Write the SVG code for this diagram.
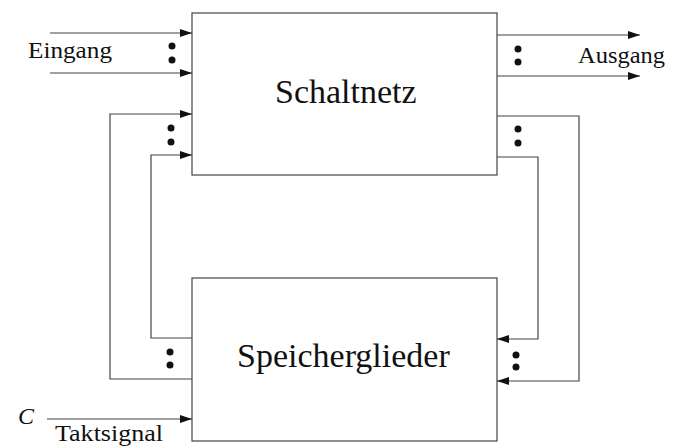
<svg xmlns="http://www.w3.org/2000/svg" width="673" height="448" viewBox="0 0 673 448">
<defs>
<marker id="arr" viewBox="0 0 12 8" refX="12" refY="4" markerWidth="12" markerHeight="8" markerUnits="userSpaceOnUse" orient="auto">
<path d="M0,0 L12,4 L0,8 Z" fill="#111"/>
</marker>
</defs>
<style>
.box{fill:#fff;stroke:#444;stroke-width:1.2}
.ln{fill:none;stroke:#444;stroke-width:1.2}
.t{font-family:"Liberation Serif","Times New Roman",serif;fill:#111}
.dot{fill:#111}
</style>
<rect width="673" height="448" fill="#fff"/>
<g id="schaltnetz">
<rect class="box" x="192" y="13" width="305" height="162"/>
<text class="t" x="275" y="103" font-size="34">Schaltnetz</text>
</g>
<g id="speicherglieder">
<rect class="box" x="192" y="278" width="305" height="163"/>
<text class="t" x="237" y="367" font-size="34">Speicherglieder</text>
</g>
<g id="connectors">
<path class="ln" d="M50,33 H192" marker-end="url(#arr)"/>
<path class="ln" d="M50,73 H192" marker-end="url(#arr)"/>
<path class="ln" d="M497,35 H640" marker-end="url(#arr)"/>
<path class="ln" d="M497,76 H640" marker-end="url(#arr)"/>
<path class="ln" d="M192,379 H110 V114 H192" marker-end="url(#arr)"/>
<path class="ln" d="M192,338 H151 V155 H192" marker-end="url(#arr)"/>
<path class="ln" d="M497,116 H579 V381 H497" marker-end="url(#arr)"/>
<path class="ln" d="M497,157 H538 V339 H497" marker-end="url(#arr)"/>
<path class="ln" d="M47,419 H192" marker-end="url(#arr)"/>
</g>
<g id="dots">
<circle class="dot" cx="172" cy="46" r="3.5"/>
<circle class="dot" cx="172" cy="60" r="3.5"/>
<circle class="dot" cx="518" cy="49" r="3.5"/>
<circle class="dot" cx="518" cy="62" r="3.5"/>
<circle class="dot" cx="171" cy="128" r="3.5"/>
<circle class="dot" cx="171" cy="142" r="3.5"/>
<circle class="dot" cx="518" cy="129" r="3.5"/>
<circle class="dot" cx="518" cy="143" r="3.5"/>
<circle class="dot" cx="170" cy="352" r="3.5"/>
<circle class="dot" cx="170" cy="365" r="3.5"/>
<circle class="dot" cx="516" cy="355" r="3.5"/>
<circle class="dot" cx="516" cy="367" r="3.5"/>
</g>
<g id="labels">
<text class="t" x="28" y="58" font-size="24" textLength="84" lengthAdjust="spacingAndGlyphs">Eingang</text>
<text class="t" x="578" y="63" font-size="24" textLength="87" lengthAdjust="spacingAndGlyphs">Ausgang</text>
<text class="t" x="18" y="424" font-size="24" font-style="italic">C</text>
<text class="t" x="55" y="441" font-size="23" textLength="108" lengthAdjust="spacingAndGlyphs">Taktsignal</text>
</g>
</svg>
